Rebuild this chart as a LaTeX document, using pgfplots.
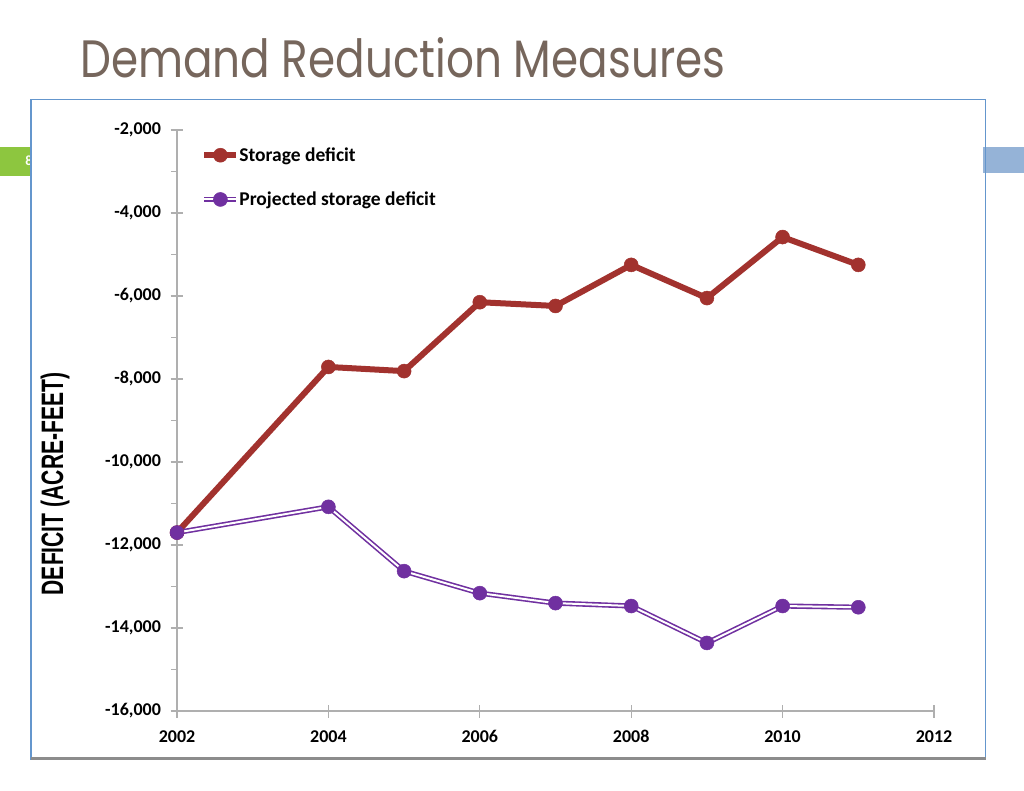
\documentclass[border=0pt]{standalone}
\usepackage{pgfplots}
\pgfplotsset{compat=1.18}
\usepackage{fontspec}
\setmainfont{Carlito}
\newfontfamily\titlefont{Poppins}
\newfontfamily\arialfont{Liberation Sans}
\definecolor{titlecol}{RGB}{118,102,92}
\definecolor{tabgreen}{RGB}{141,198,63}
\definecolor{tabblue}{RGB}{149,179,215}
\definecolor{framebl}{RGB}{100,150,205}
\definecolor{stred}{RGB}{162,50,46}
\definecolor{prpurple}{RGB}{112,48,160}
\definecolor{axgray}{RGB}{175,175,175}
\begin{document}
\begin{tikzpicture}[x=1pt,y=1pt]
\fill[white] (0,0) rectangle (1024,-791);
\fill[tabgreen] (0,-147) rectangle (32,-176);
\node[white, font=\fontsize{14}{14}\selectfont\bfseries] at (29,-161) {8};
\filldraw[fill=white, draw=framebl, line width=1.2pt] (31,-99.5) rectangle (985.5,-759);
\fill[tabblue] (983,-147) rectangle (1024,-173);
\draw[framebl, line width=1.2pt] (985.5,-99.5) -- (985.5,-759);
\draw[black!45, line width=3pt] (31,-758) -- (986,-758);
\node[anchor=base west, inner sep=0, text=titlecol] at (80,-78) {\resizebox{645pt}{40pt}{\titlefont Demand Reduction Measures}};
\node[rotate=90, inner sep=0] at (55,-484) {\scalebox{0.68}[1]{\fontsize{31}{31}\selectfont\arialfont\bfseries DEFICIT (ACRE-FEET)}};
\begin{axis}[
  at={(177pt,-711pt)}, anchor=south west,
  scale only axis, width=757pt, height=581pt,
  xmin=2002, xmax=2012, ymin=-16000, ymax=-2000,
  axis x line=bottom, axis y line=left,
  axis line style={axgray, line width=1.3pt, -},
  xtick={2002,2004,...,2012}, minor x tick num=1,
  ytick={-16000,-14000,...,-2000}, minor y tick num=1,
  scaled y ticks=false, scaled x ticks=false,
  tick align=center,
  major tick length=13pt, minor tick length=6pt,
  every tick/.style={axgray, line width=1.1pt},
  minor x tick style={yshift=-3pt},
  minor y tick style={xshift=-3pt},
  tick label style={font=\fontsize{18}{18}\selectfont\bfseries},
  /pgf/number format/assume math mode=true,
  x tick label style={/pgf/number format/1000 sep={}, yshift=-8pt, text height=13pt, text depth=0pt},
  y tick label style={/pgf/number format/1000 sep={,}, xshift=-6pt},
  legend style={draw=none, fill=none, at={(0.032,0.97)}, anchor=north west,
    font=\fontsize{19.5}{19.5}\selectfont\bfseries, row sep=29pt, inner sep=0pt,
    nodes={inner sep=0pt}},
  legend cell align=left,
  legend image code/.code={\draw[mark repeat=2,mark phase=2] plot coordinates {(0pt,0pt)(16pt,0pt)(32pt,0pt)};},
  clip=false,
]
\addplot[stred, line width=6pt, mark=*, mark size=7pt, mark options={fill=stred, draw=stred, line width=0.5pt}]
 coordinates {(2002,-11700)(2004,-7710)(2005,-7810)(2006,-6150)(2007,-6240)(2008,-5250)(2009,-6050)(2010,-4580)(2011,-5250)};
\addlegendentry{Storage deficit}
\addplot[prpurple, line width=1.6pt, double=white, double distance=2pt, mark=*, mark size=7pt, mark options={fill=prpurple, draw=prpurple, line width=0.5pt}]
 coordinates {(2002,-11700)(2004,-11080)(2005,-12630)(2006,-13160)(2007,-13400)(2008,-13470)(2009,-14360)(2010,-13470)(2011,-13500)};
\addlegendentry{Projected storage deficit}
\end{axis}
\end{tikzpicture}
\end{document}
